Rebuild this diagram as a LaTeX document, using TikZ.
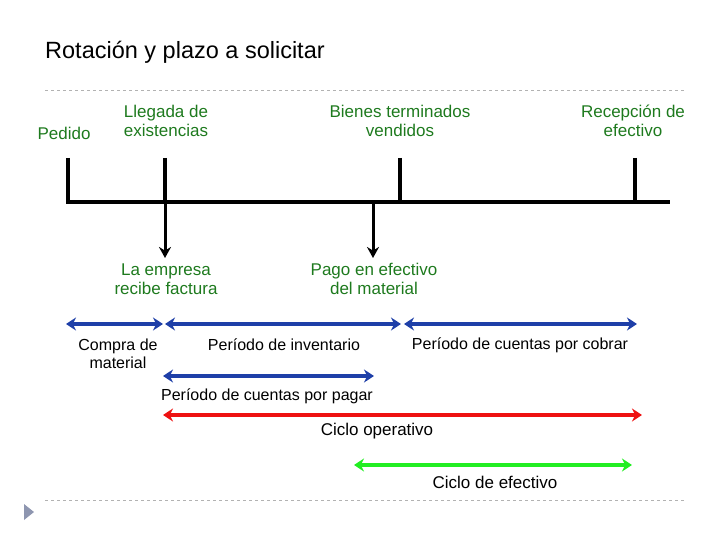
\documentclass[tikz,border=0pt]{standalone}
\usepackage{fontspec}
\setmainfont{Liberation Sans}
\usetikzlibrary{arrows.meta}
\definecolor{lab}{HTML}{1E7A1E}
\definecolor{blu}{HTML}{1E3FA8}
\definecolor{rd}{HTML}{EE1111}
\definecolor{gr}{HTML}{22EE22}
\begin{document}
\begin{tikzpicture}[x=1pt,y=-1pt,
 lbl/.style={text=lab,font=\fontsize{17}{19}\selectfont,align=center,inner sep=0},
 blk/.style={text=black,font=\fontsize{16}{18}\selectfont,align=center,inner sep=0},
 tick/.style={line width=3.5pt},
 span/.style={line width=4pt,{Stealth[length=10pt,width=13pt]}-{Stealth[length=10pt,width=13pt]}}]
\useasboundingbox (0,0) rectangle (720,540);
\node[anchor=west,font=\fontsize{23.5}{25}\selectfont,inner sep=0] (title) at (45,52) {Rotación y plazo a solicitar};
\draw[gray!60,dashed] (45,90) -- (685,90);
\draw[gray!60,dashed] (45,500) -- (685,500);
\fill[blu!35!gray!70] (24,504) -- (34,512) -- (24,520) -- cycle;
% timeline
\coordinate (L) at (66,202); \coordinate (R) at (670,202);
\draw[line width=4.5pt] (L) -- (R);
\foreach \n/\x in {t1/68,t2/165,t3/400,t4/635}{
 \coordinate (\n) at (\x,202);
 \draw[tick] (\x,158) -- (\n);}
\coordinate (a1) at (165,202); \coordinate (a1e) at (165,258);
\coordinate (a2) at (373,202); \coordinate (a2e) at (373,258);
\draw[line width=3pt,-{Stealth[length=11pt,width=12pt]}] (a1) -- (a1e);
\draw[line width=3pt,-{Stealth[length=11pt,width=12pt]}] (a2) -- (a2e);
\node[lbl] (n1) at (64,133) {Pedido};
\node[lbl] (n2) at (166,121) {Llegada de\\existencias};
\node[lbl] (n3) at (400,121) {Bienes terminados\\vendidos};
\node[lbl] (n4) at (633,121) {Recepción de\\efectivo};
\node[lbl] (n5) at (166,279) {La empresa\\recibe factura};
\node[lbl] (n6) at (374,279) {Pago en efectivo\\del material};
% spans
\coordinate (b1) at (66,324); \coordinate (b2) at (163,324);
\coordinate (b3) at (165,324); \coordinate (b4) at (401,324);
\coordinate (b5) at (404,324); \coordinate (b6) at (637,324);
\draw[span,blu] (b1) -- (b2);
\draw[span,blu] (b3) -- (b4);
\draw[span,blu] (b5) -- (b6);
\node[blk] (s1) at (118,354) {Compra de\\material};
\node[blk] (s2) at (284,345) {Período de inventario};
\node[blk] (s3) at (520,345) {Período de cuentas por cobrar};
\coordinate (p1) at (163,376); \coordinate (p2) at (374,376);
\draw[span,blu] (p1) -- (p2);
\node[blk] (s4) at (267,396) {Período de cuentas por pagar};
\coordinate (r1) at (163,415); \coordinate (r2) at (642,415);
\draw[span,rd] (r1) -- (r2);
\node[blk,font=\fontsize{17}{19}\selectfont] (s5) at (377,431) {Ciclo operativo};
\coordinate (g1) at (354,465); \coordinate (g2) at (632,465);
\draw[span,gr] (g1) -- (g2);
\node[blk,font=\fontsize{17}{19}\selectfont] (s6) at (495,482) {Ciclo de efectivo};
\end{tikzpicture}
\end{document}
